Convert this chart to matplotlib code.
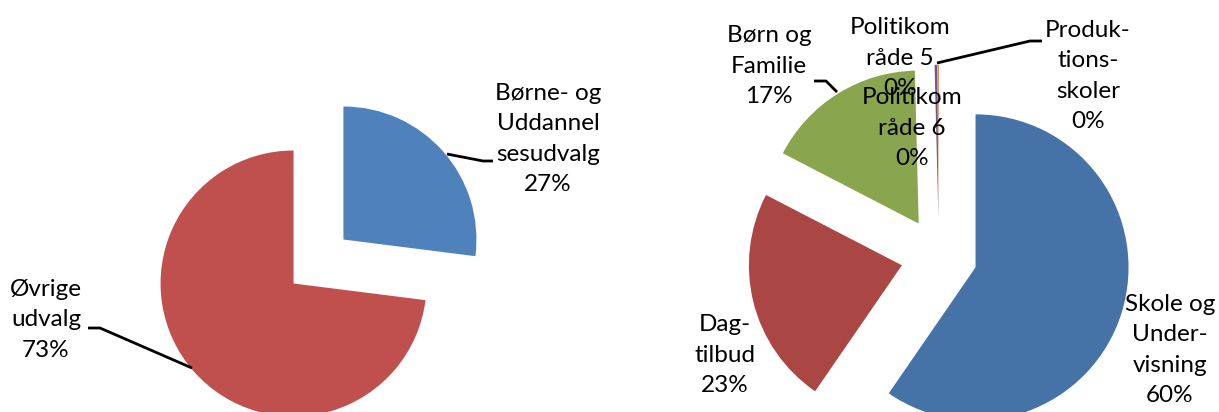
import matplotlib
matplotlib.use("Agg")
import matplotlib.pyplot as plt

W, H = 1219, 412

# ---- data ----
left_labels = ["Børne- og\nUddannel\nsesudvalg", "Øvrige\nudvalg"]
left_values = [27, 73]
left_colors = ["#4F81BD", "#C0504D"]

right_labels = ["Skole og\nUnder-\nvisning", "Dag-\ntilbud", "Børn og\nFamilie",
                "Politikom\nråde 5", "Politikom\nråde 6", "Produk-\ntions-\nskoler"]
right_values = [59.6, 23.0, 17.0, 0.3, 0.0, 0.1]
right_colors = ["#4572A7", "#AA4643", "#89A54E", "#71588F", "#4198AF", "#DB843D"]

# ---- layout (screen pixel coords, y down) ----
left_center = (318.5, 261.5)
left_radius = 133
right_center = (939, 256)
right_radius = 153
EXPLODE = 0.25  # fraction of radius

left_label_pos = [(548, 139), (46, 320)]
right_label_pos = [(1170, 350), (725, 355), (769, 66), (900, 58), (912, 128), (1088, 76)]

left_leaders = [[(447, 154), (483, 161), (493, 161)],
                [(192, 368), (100, 328), (88, 328)]]
right_leaders = [[(837, 92), (826, 81), (814, 81)],
                 [(937, 63), (1030, 41), (1042, 41)]]

FS = 17.5
LS = 1.55

plt.rcParams['font.family'] = ['Lato', 'DejaVu Sans']
fig = plt.figure(figsize=(W / 100, H / 100), dpi=100)
ax = fig.add_axes([0, 0, 1, 1])


def draw_pie(values, colors, labels, center, radius, label_pos):
    ax.pie(values, colors=colors, startangle=90, counterclock=False,
           center=(center[0], H - center[1]), radius=radius,
           explode=[EXPLODE * radius] * len(values), wedgeprops=dict(linewidth=0))
    total = sum(values)
    for lab, v, (x, y) in zip(labels, values, label_pos):
        ax.text(x, H - y, f"{lab}\n{v / total * 100:.0f}%", ha='center', va='center',
                multialignment='center', fontsize=FS, linespacing=LS, color='black')


draw_pie(left_values, left_colors, left_labels, left_center, left_radius, left_label_pos)
draw_pie(right_values, right_colors, right_labels, right_center, right_radius, right_label_pos)

for pts in left_leaders + right_leaders:
    xs = [p[0] for p in pts]
    ys = [H - p[1] for p in pts]
    ax.plot(xs, ys, color='black', lw=2, solid_capstyle='butt')

ax.set_xlim(0, W)
ax.set_ylim(0, H)
ax.set_aspect('auto')
ax.set_axis_off()
fig.savefig('out.png', dpi=100)
